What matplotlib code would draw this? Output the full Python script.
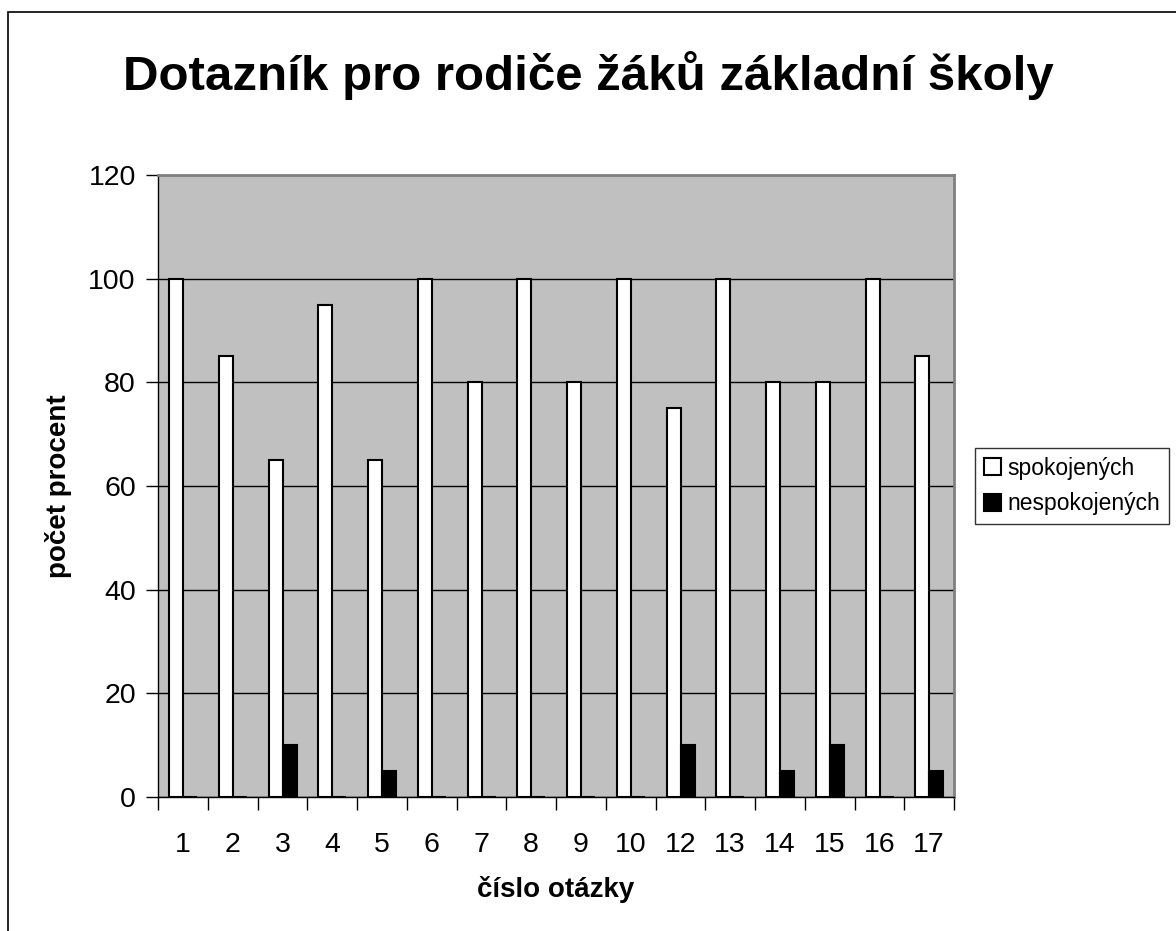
import matplotlib
matplotlib.use("Agg")
import matplotlib.pyplot as plt
import numpy as np
from matplotlib.patches import Rectangle

plt.rcParams['font.family'] = ['Liberation Sans', 'DejaVu Sans']

categories = ['1', '2', '3', '4', '5', '6', '7', '8', '9', '10', '12', '13', '14', '15', '16', '17']
spokojenych = [100, 85, 65, 95, 65, 100, 80, 100, 80, 100, 75, 100, 80, 80, 100, 85]
nespokojenych = [0, 0, 10, 0, 5, 0, 0, 0, 0, 0, 10, 0, 5, 10, 0, 5]

W, H = 1176, 931
fig = plt.figure(figsize=(W / 100, H / 100), dpi=100)
fig.patch.set_facecolor('white')

# outer chart-area frame
fig.patches.append(Rectangle((8 / W, -0.05), 1.2, (H - 12) / H + 0.05, transform=fig.transFigure,
                             fill=False, edgecolor='black', linewidth=1.2))

ax = fig.add_axes([158 / W, (H - 797) / H, (954 - 158) / W, (797 - 175) / H])
ax.set_facecolor('#c0c0c0')

x = np.arange(len(categories))
bw = 0.28
ax.bar(x - 0.135, spokojenych, bw, color='white', edgecolor='black', linewidth=1.5,
       label='spokojených', zorder=3)
ax.bar(x + 0.145, nespokojenych, bw, color='black', edgecolor='black', linewidth=1.5,
       label='nespokojených', zorder=3)

ax.set_xlim(-0.5, len(categories) - 0.5)
ax.set_ylim(0, 120)
ax.set_yticks(np.arange(0, 121, 20))
ax.yaxis.grid(True, color='black', linewidth=1)
ax.set_axisbelow(True)

ax.set_xticks(x)
ax.set_xticklabels(categories, fontsize=20.5)
ax.tick_params(axis='x', length=0, pad=25)
ax.set_xticks(np.arange(-0.5, len(categories), 1), minor=True)
ax.tick_params(axis='x', which='minor', length=9, width=1, color='black')
ax.tick_params(axis='y', labelsize=20.5, length=9, width=1, pad=7)

for s in ['top', 'right']:
    ax.spines[s].set_color('#808080')
    ax.spines[s].set_linewidth(2)
for s in ['left', 'bottom']:
    ax.spines[s].set_color('black')
    ax.spines[s].set_linewidth(1)

ax.set_xlabel('číslo otázky', fontsize=20, fontweight='bold', labelpad=13)
ax.set_ylabel('počet procent', fontsize=20, fontweight='bold', labelpad=12)

fig.text(0.5, (H - 75) / H, 'Dotazník pro rodiče žáků základní školy', ha='center', va='center',
         fontsize=35.5, fontweight='bold')

leg = fig.legend(loc='center left', bbox_to_anchor=(975 / W, (H - 486) / H), fontsize=16.5,
                 frameon=True, fancybox=False, edgecolor='black', handlelength=0.75,
                 handleheight=0.75, handletextpad=0.25, borderpad=0.4, labelspacing=0.55,
                 borderaxespad=0)
leg.get_frame().set_linewidth(1)

fig.savefig('out.png', dpi=100)
